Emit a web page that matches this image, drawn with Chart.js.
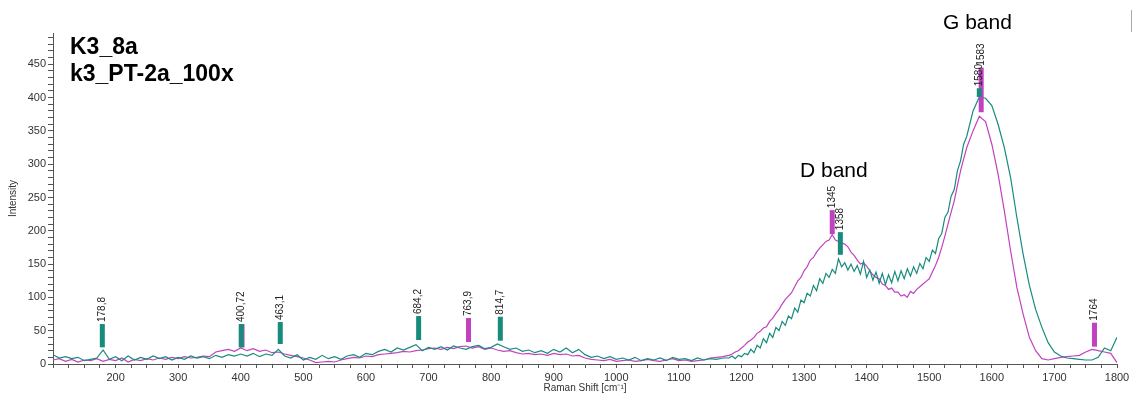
<!DOCTYPE html>
<html lang="en">
  <head>
    <meta charset="UTF-8">
    <script src="https://cdn.jsdelivr.net/npm/chart.js@4.4.0/dist/chart.umd.min.js"></script>
    <style>
      html, body { margin: 0; padding: 0; background: #FFFFFF; }
      .chart-box { width: 1133px; height: 394px; position: relative; }
    </style>
  </head>
  <body>
    <div class="chart-box">
      <canvas id="ramanChart"></canvas>
    </div>

    <script>
      // Raman shift axis [cm-1] (finer sampling across the D / G band rise)
      const ramanShift = [
        100, 110, 120, 130, 140, 150, 160, 170, 180, 190,
        200, 210, 220, 230, 240, 250, 260, 270, 280, 290,
        300, 310, 320, 330, 340, 350, 360, 370, 380, 390,
        400, 410, 420, 430, 440, 450, 460, 470, 480, 490,
        500, 510, 520, 530, 540, 550, 560, 570, 580, 590,
        600, 610, 620, 630, 640, 650, 660, 670, 680, 690,
        700, 710, 720, 730, 740, 750, 760, 770, 780, 790,
        800, 810, 820, 830, 840, 850, 860, 870, 880, 890,
        900, 910, 920, 930, 940, 950, 960, 970, 980, 990,
        1000, 1010, 1020, 1030, 1040, 1050, 1060, 1070, 1080, 1090,
        1100, 1110, 1120, 1130, 1140, 1150, 1160, 1170,
        1180, 1185, 1190, 1195, 1200, 1205, 1210, 1215, 1220, 1225,
        1230, 1235, 1240, 1245, 1250, 1255, 1260, 1265, 1270, 1275,
        1280, 1285, 1290, 1295, 1300, 1305, 1310, 1315, 1320, 1325,
        1330, 1335, 1340, 1345, 1350, 1355, 1360, 1365, 1370, 1375,
        1380, 1385, 1390, 1395, 1400, 1405, 1410, 1415, 1420, 1425,
        1430, 1435, 1440, 1445, 1450, 1455, 1460, 1465, 1470, 1475,
        1480, 1485, 1490, 1495, 1500, 1505, 1510, 1515, 1520, 1525,
        1530, 1535, 1540, 1545, 1550, 1555, 1560,
        1570, 1580, 1590, 1600, 1610, 1620, 1630, 1640, 1650, 1660,
        1670, 1680, 1690, 1700, 1710, 1720, 1730, 1740, 1750, 1760,
        1770, 1780, 1790, 1800
      ];

      // teal spectrum
      const tealIntensity = [
        14, 9, 11, 8, 10, 5, 7, 9, 21, 7,
        11, 5, 12, 6, 10, 7, 12, 8, 11, 6,
        10, 7, 12, 9, 11, 8, 13, 10, 14, 12,
        15, 12, 16, 11, 15, 13, 22, 12, 9, 14,
        6, 10, 7, 13, 8, 11, 7, 12, 14, 10,
        16, 14, 19, 22, 18, 24, 21, 25, 29, 20,
        25, 22, 26, 21, 27, 24, 22, 26, 28, 23,
        25, 30, 26, 22, 24, 19, 21, 17, 20, 16,
        22, 18, 24, 17, 22, 14, 10, 12, 8, 11,
        7, 9, 6, 10, 5, 8, 6, 9, 5, 10,
        7, 8, 5, 9, 6, 8, 7, 9,
        9, 12, 8, 13, 11, 16, 14, 22, 17, 28,
        24, 38, 32, 46, 40, 55, 50, 64, 58, 72,
        68, 84, 78, 96, 92, 106, 102, 118, 110, 128,
        121, 136, 130, 142, 136, 158, 146, 152, 141, 150,
        139, 148, 135, 154, 130, 141, 126, 138, 121, 136,
        119, 134, 122, 139, 125, 140, 128, 143, 132, 146,
        136, 151, 143, 160, 154, 171, 166, 188, 196, 220,
        228, 252, 262, 290, 305, 330, 342,
        380, 401, 399, 388, 360, 325, 280, 220, 165, 118,
        82, 55, 32, 18, 12, 9, 8, 7, 6, 6,
        10, 24, 20, 40
      ];

      // magenta spectrum
      const magentaIntensity = [
        6, 8, 4, 7, 3, 6, 5, 8, 4, 7,
        5, 9, 3, 7, 5, 8, 6, 9, 7, 10,
        8, 11, 9, 10, 12, 11, 18, 20, 22, 19,
        24, 20, 23, 19, 21, 17, 18, 15, 13, 11,
        9, 6, 2, 3, 4, 3, 6, 8, 10, 9,
        12, 11, 14, 15, 16, 17, 19, 18, 20, 21,
        23, 24, 22, 25, 23, 26, 27, 24, 26, 22,
        24, 21, 19, 20, 17, 15, 16, 14, 15, 13,
        16, 14, 15, 12, 13, 9, 7, 6, 5, 7,
        4, 5, 6, 4, 5, 7, 5, 4, 6, 8,
        5, 6, 4, 5, 6, 9, 10, 11,
        13, 15, 18, 20, 24, 28, 33, 36, 40, 46,
        49, 54, 56, 64, 69, 76, 82, 90, 97, 102,
        107, 116, 125, 130, 140, 146, 156, 160, 168, 174,
        179, 184, 186, 194, 186, 184, 182, 180, 176, 168,
        163, 156, 150, 152, 147, 140, 134, 130, 128, 120,
        118, 112, 114, 108, 108, 102, 104, 100, 109, 106,
        112, 116, 120, 124, 128, 138, 148, 160, 175, 192,
        210, 228, 245, 268, 290, 308, 325,
        350, 372, 364, 330, 285, 230, 170, 115, 75, 40,
        20, 8, 6, 8, 10, 11, 12, 13, 18, 22,
        20, 18, 16, 2
      ];

      // peak markers: position, label, bar span (intensity), which spectrum
      const peakShift  = [402, 178.8, 400.72, 463.1, 684.2, 763.9, 814.7, 1345, 1358, 1583, 1580, 1764];
      const peakLabel  = ['', '178,8', '400,72', '463,1', '684,2', '763,9', '814,7', '1345', '1358', '1583', '1580', '1764'];
      const peakLow    = [25, 25, 25, 30, 36, 33, 35, 195, 164, 378, 401, 26];
      const peakHigh   = [60, 60, 60, 63, 72, 69, 71, 231, 198, 445, 414, 62];
      const peakSeries = ['m', 't', 't', 't', 't', 'm', 't', 'm', 't', 'm', 't', 'm'];

      const TEAL = '#178c7d';
      const MAGENTA = '#c042bf';

      const peakMarkers = {
        id: 'peakMarkers',
        afterDatasetsDraw(chart) {
          const ctx = chart.ctx;
          const xs = chart.scales.x, ys = chart.scales.y;
          ctx.save();
          peakShift.forEach((p, i) => {
            const px = xs.getPixelForValue(p);
            const yTop = ys.getPixelForValue(peakHigh[i]);
            const yBot = ys.getPixelForValue(peakLow[i]);
            ctx.fillStyle = peakSeries[i] === 't' ? TEAL : MAGENTA;
            ctx.fillRect(px - 2.5, yTop, 5, yBot - yTop);
          });
          ctx.font = '10px "Liberation Sans", Arial, sans-serif';
          ctx.fillStyle = '#222';
          ctx.textAlign = 'left';
          ctx.textBaseline = 'middle';
          peakShift.forEach((p, i) => {
            if (!peakLabel[i]) return;
            const px = xs.getPixelForValue(p);
            const yTop = ys.getPixelForValue(peakHigh[i]);
            ctx.save();
            ctx.translate(px, yTop - 2);
            ctx.rotate(-Math.PI / 2);
            ctx.fillText(peakLabel[i], 0, 0);
            ctx.restore();
          });
          ctx.restore();
        }
      };

      const annotations = {
        id: 'annotations',
        afterDraw(chart) {
          const ctx = chart.ctx;
          ctx.save();
          ctx.fillStyle = '#000';
          ctx.textAlign = 'left';
          ctx.textBaseline = 'alphabetic';
          ctx.font = 'bold 23px "Liberation Sans", Arial, sans-serif';
          ctx.fillText('K3_8a', 70, 54);
          ctx.fillText('k3_PT-2a_100x', 70, 81);
          ctx.font = '21px "Liberation Sans", Arial, sans-serif';
          ctx.fillText('D band', 800, 177);
          ctx.fillText('G band', 943, 29);
          // frame stub at the top right
          ctx.strokeStyle = '#aaa';
          ctx.lineWidth = 1;
          ctx.beginPath();
          ctx.moveTo(1131.5, 10);
          ctx.lineTo(1131.5, 32);
          ctx.stroke();
          ctx.restore();
        }
      };

      const tickFont = { family: '"Liberation Sans", Arial, sans-serif', size: 11 };

      const ctx = document.getElementById('ramanChart').getContext('2d');
      const ramanChart = new Chart(ctx, {
        type: 'line',
        data: {
          datasets: [
            {
              label: 'teal',
              data: ramanShift.map((x, i) => ({ x: x, y: tealIntensity[i] })),
              borderColor: TEAL,
              borderWidth: 1.2,
              pointRadius: 0,
              tension: 0,
              fill: false
            },
            {
              label: 'magenta',
              data: ramanShift.map((x, i) => ({ x: x, y: magentaIntensity[i] })),
              borderColor: MAGENTA,
              borderWidth: 1.2,
              pointRadius: 0,
              tension: 0,
              fill: false
            }
          ]
        },
        options: {
          responsive: true,
          maintainAspectRatio: false,
          animation: false,
          layout: { padding: { top: 33, right: 16, left: 0, bottom: 0 } },
          plugins: {
            legend: { display: false },
            tooltip: { enabled: false }
          },
          scales: {
            x: {
              type: 'linear',
              min: 100,
              max: 1800,
              afterFit(scale) { scale.height = 30; },
              border: { color: '#555', width: 1 },
              grid: { drawOnChartArea: false, tickLength: 4, color: '#555' },
              ticks: {
                stepSize: 25,
                autoSkip: false,
                maxRotation: 0,
                padding: 3,
                color: '#333',
                font: tickFont,
                callback: v => (v % 100 === 0 && v > 100) ? v : ''
              },
              title: {
                display: true,
                text: 'Raman Shift [cm⁻¹]',
                color: '#333',
                font: { family: '"Liberation Sans", Arial, sans-serif', size: 10 },
                padding: { top: 0, bottom: 0 }
              }
            },
            y: {
              min: 0,
              max: 497,
              afterFit(scale) { scale.width = 53; },
              border: { color: '#555', width: 1 },
              grid: { drawOnChartArea: false, tickLength: 5, color: '#555' },
              ticks: {
                stepSize: 10,
                autoSkip: false,
                includeBounds: false,
                padding: 2,
                color: '#333',
                font: tickFont,
                callback: v => (v % 50 === 0) ? v : ''
              },
              title: {
                display: true,
                text: 'Intensity',
                color: '#333',
                font: { family: '"Liberation Sans", Arial, sans-serif', size: 10 },
                padding: { top: 7, bottom: 0 }
              }
            }
          }
        },
        plugins: [peakMarkers, annotations]
      });
    </script>
  </body>
</html>
